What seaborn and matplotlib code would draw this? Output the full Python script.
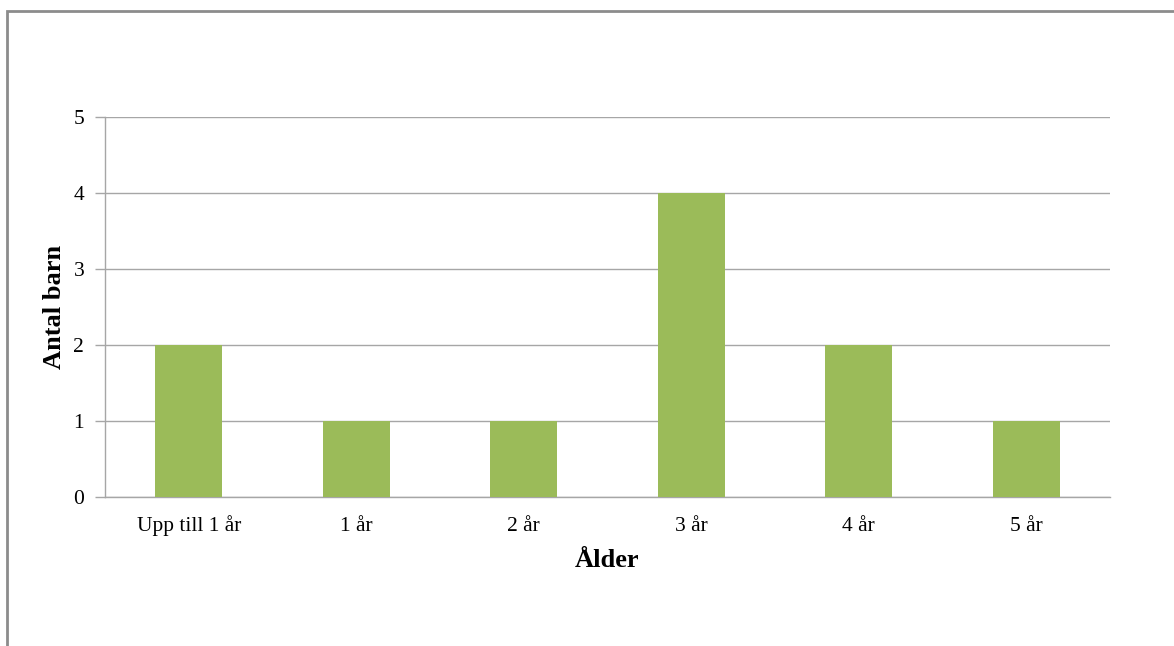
import pandas as pd
import seaborn as sns
import matplotlib.pyplot as plt
from matplotlib.patches import Rectangle

# Data
categories = ['Upp till 1 år', '1 år', '2 år', '3 år', '4 år', '5 år']
antal_barn = [2, 1, 1, 4, 2, 1]

df = pd.DataFrame({'Ålder': categories, 'Antal barn': antal_barn})

sns.set_style('white')
plt.rcParams['font.family'] = ['Liberation Serif', 'DejaVu Serif']
plt.rcParams['text.color'] = 'black'
plt.rcParams['axes.labelcolor'] = 'black'
plt.rcParams['xtick.color'] = 'black'
plt.rcParams['ytick.color'] = 'black'

fig = plt.figure(figsize=(11.74, 6.46), dpi=100)
ax = fig.add_axes([105 / 1174, 1 - 497 / 646, (1110 - 105) / 1174, (497 - 117) / 646])

sns.barplot(data=df, x='Ålder', y='Antal barn', color='#9BBB59', width=0.4,
            saturation=1, linewidth=0, ax=ax, zorder=3)

ax.set_ylim(0, 5)
ax.set_yticks(range(0, 6))
ax.grid(axis='y', color='#A6A6A6', linewidth=1, zorder=0)
for side in ['top', 'right']:
    ax.spines[side].set_visible(False)
for side in ['left', 'bottom']:
    ax.spines[side].set_color('#A6A6A6')
    ax.spines[side].set_linewidth(1)

ax.tick_params(axis='y', which='both', left=True, length=7, color='#A6A6A6',
               labelcolor='black', width=1, labelsize=15.5, pad=8)
ax.tick_params(axis='x', bottom=False, labelsize=15.5, labelcolor='black', pad=21)
# keep all x labels on one baseline
for lbl in ax.get_xticklabels():
    lbl.set_verticalalignment('baseline')

ax.set_xlabel('Ålder', fontsize=19, fontweight='bold', labelpad=9)
ax.set_ylabel('Antal barn', fontsize=19, fontweight='bold', labelpad=5)

# grey frame around the chart area (only left and top are visible)
fig.patches.append(Rectangle((7 / 1174, -0.1), 1.2, 1.1 - 11 / 646,
                             transform=fig.transFigure, fill=False,
                             edgecolor='#8C8C8C', linewidth=2, zorder=-1))

fig.savefig('out.png', dpi=100)
